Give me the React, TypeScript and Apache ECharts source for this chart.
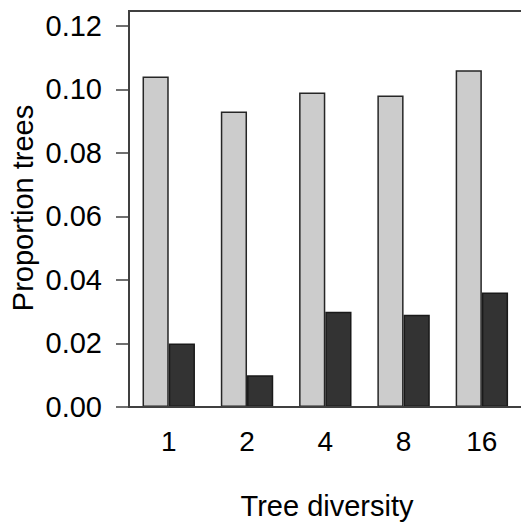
import React, { useEffect, useRef } from "react";
import * as echarts from "echarts";

const categories = ["1", "2", "4", "8", "16"];
const lightValues = [0.104, 0.093, 0.099, 0.098, 0.106];
const darkValues = [0.02, 0.01, 0.03, 0.029, 0.036];
const yTicks = [0, 0.02, 0.04, 0.06, 0.08, 0.1, 0.12];
const xTitle = "Tree diversity";
const yTitle = "Proportion trees";

const FONT = "'Liberation Sans', Arial, Helvetica, sans-serif";

export default function App() {
  const ref = useRef<HTMLDivElement>(null);
  useEffect(() => {
    document.body.style.margin = "0";
    const chart = echarts.init(ref.current!, null, { renderer: "svg" });
    const unit = 26.21;
    const gridLeft = 129.6;
    const gridTop = 25.7;
    const gridBottomY = 407;
    const boxColor = "#404040";
    chart.setOption({
      animation: false,
      backgroundColor: "#ffffff",
      grid: {
        left: gridLeft,
        top: gridTop,
        width: unit * 15,
        height: gridBottomY - gridTop,
        containLabel: false,
      },
      xAxis: {
        type: "category",
        data: categories,
        boundaryGap: true,
        axisLine: { show: false },
        axisTick: { show: false },
        splitLine: { show: false },
        axisLabel: {
          margin: 20,
          fontSize: 28,
          fontFamily: FONT,
          color: "#000",
        },
      },
      yAxis: {
        type: "value",
        min: yTicks[0],
        max: yTicks[yTicks.length - 1],
        interval: 0.02,
        offset: 0.6,
        axisLine: { show: false },
        splitLine: { show: false },
        axisTick: {
          show: true,
          length: 13,
          lineStyle: { color: boxColor, width: 1.5 },
        },
        axisLabel: {
          margin: 27,
          fontSize: 29,
          fontFamily: FONT,
          color: "#000",
          formatter: (v: number) => v.toFixed(2),
        },
      },
      series: [
        {
          type: "bar",
          data: lightValues,
          barWidth: unit,
          barGap: "0%",
          itemStyle: { color: "#cccccc", borderColor: "#262626", borderWidth: 1.5 },
        },
        {
          type: "bar",
          data: darkValues,
          barWidth: unit,
          barGap: "0%",
          itemStyle: { color: "#333333", borderColor: "#1a1a1a", borderWidth: 1.5 },
        },
      ],
      graphic: [
        {
          type: "line",
          shape: { x1: 129, y1: 11, x2: 129, y2: 407 },
          style: { stroke: boxColor, lineWidth: 2 },
          z: 100,
        },
        {
          type: "line",
          shape: { x1: 128, y1: 11, x2: 530, y2: 11 },
          style: { stroke: boxColor, lineWidth: 2 },
          z: 100,
        },
        {
          type: "line",
          shape: { x1: 128, y1: 407, x2: 530, y2: 407 },
          style: { stroke: boxColor, lineWidth: 2 },
          z: 100,
        },
        {
          type: "text",
          x: 327,
          y: 506,
          style: {
            text: xTitle,
            fontSize: 29,
            fontFamily: FONT,
            fill: "#000",
            align: "center",
            verticalAlign: "middle",
          },
        },
        {
          type: "text",
          x: 23,
          y: 208,
          rotation: Math.PI / 2,
          style: {
            text: yTitle,
            fontSize: 29,
            fontFamily: FONT,
            fill: "#000",
            align: "center",
            verticalAlign: "middle",
          },
        },
      ],
    });
    return () => chart.dispose();
  }, []);
  return <div ref={ref} style={{ width: 521, height: 523 }} />;
}
